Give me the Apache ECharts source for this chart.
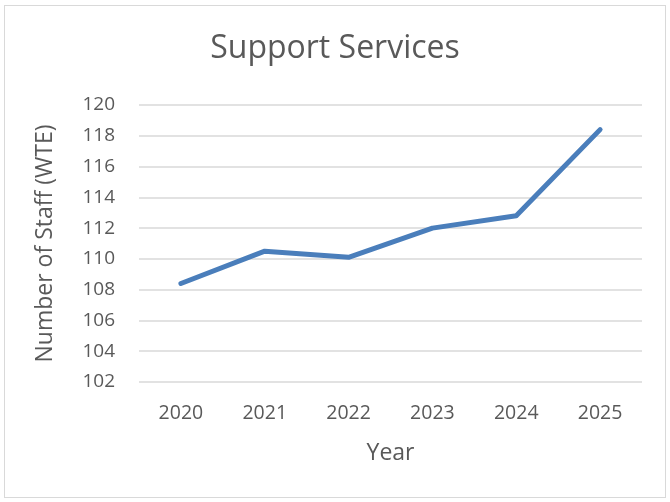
<!DOCTYPE html>
<html>
<head>
<meta charset="utf-8">
<script src="https://cdn.jsdelivr.net/npm/echarts@6/dist/echarts.min.js"></script>
<style>
    html, body { margin: 0; padding: 0; background: #fff; }
    #chart {
        position: absolute;
        left: 4px; top: 5px;
        width: 660px; height: 491px;
        border: 1px solid #d9d9d9;
    }
</style>
</head>
<body>
<div id="chart"></div>
<script>
    // 数据
    var years = ["2020", "2021", "2022", "2023", "2024", "2025"];
    var staff = [108.4, 110.5, 110.1, 112.0, 112.8, 118.4];
    var yTicks = [102, 104, 106, 108, 110, 112, 114, 116, 118, 120];

    var font = "'Open Sans', 'Noto Sans', sans-serif";

    var option = {
        animation: false,
        title: {
            text: "Support Services",
            left: "center",
            top: 22,
            textStyle: { fontFamily: font, fontSize: 32, fontWeight: "normal", color: "#595959" }
        },
        grid: { left: 134, right: 23, top: 99, bottom: 115 },
        xAxis: {
            type: "category",
            data: years,
            boundaryGap: true,
            axisTick: { show: false },
            axisLine: { show: false },
            axisLabel: { margin: 21, fontFamily: font, fontSize: 19.5, color: "#595959" },
            name: "Year",
            nameLocation: "middle",
            nameGap: 60,
            nameTextStyle: { fontFamily: font, fontSize: 23, color: "#595959" }
        },
        yAxis: {
            type: "value",
            min: yTicks[0],
            max: yTicks[yTicks.length - 1],
            interval: 2,
            axisLabel: { margin: 24, fontFamily: font, fontSize: 19, color: "#595959" },
            splitLine: { lineStyle: { color: "#d9d9d9", width: 1.5 } },
            name: "Number of Staff (WTE)",
            nameLocation: "middle",
            nameGap: 82,
            nameTextStyle: { fontFamily: font, fontSize: 23, color: "#595959" }
        },
        series: [{
            type: "line",
            data: staff,
            symbol: "none",
            lineStyle: { color: "#4a7ebb", width: 5, cap: "round", join: "round" }
        }]
    };

    var chartObj = echarts.init(document.getElementById("chart"));
    chartObj.setOption(option);
</script>
</body>
</html>
